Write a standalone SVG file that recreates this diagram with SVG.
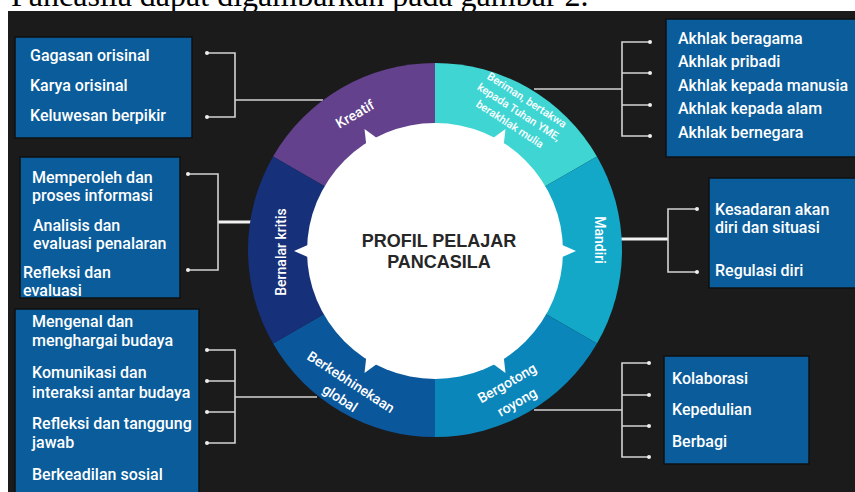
<svg xmlns="http://www.w3.org/2000/svg" width="855" height="492" viewBox="0 0 855 492">
<defs>
<style>
.page{font-family:"Liberation Serif","Times New Roman",serif;font-size:32px;fill:#000}
.box{fill:#0a5c9a;stroke:#111;stroke-width:1.5}
.bt{font-family:Roboto,"Liberation Sans",Arial,sans-serif;font-weight:500;font-size:16px;fill:#fff}
.seg{stroke:none}
.lab{font-family:Roboto,"Liberation Sans",Arial,sans-serif;font-weight:500;font-size:14px;fill:#fff;text-anchor:middle}
.small{font-size:11px}
.ctr{font-family:"Liberation Sans",Arial,sans-serif;font-weight:700;font-size:18px;fill:#262626;text-anchor:middle}
.ln{fill:none;stroke:#d4d4d4;stroke-width:1.6}
.thick{fill:none;stroke:#f2f2f2;stroke-width:3}
.dot{fill:#eee}
</style>
<polygon id="tip" points="560,244 576,251 560,258" fill="#fff"/>
</defs>
<rect x="0" y="0" width="855" height="492" fill="#fff"/>
<text class="page" x="11" y="6">Pancasila dapat digambarkan pada gambar 2.</text>
<rect x="8" y="11" width="847" height="481" fill="#1b1b1b"/>

<g id="connectors">
<path class="ln" d="M323,100H235M207,53H235V117H207"/>
<path class="ln" d="M534,89H622M650,42H622V136H650M622,73H650M622,105H650"/>
<path class="thick" d="M252,222H218"/>
<path class="ln" d="M188,174H218V270H188"/>
<path class="thick" d="M620,239H668"/>
<path class="ln" d="M697,209H668V272H697"/>
<path class="ln" d="M317,397H235M207,350H235V443H207M207,381H235M207,412H235"/>
<path class="ln" d="M534,410H622M649,363H622V457H649M622,395H649M622,426H649"/>
<g class="dot">
<circle cx="207" cy="53" r="2"/><circle cx="207" cy="117" r="2"/>
<circle cx="650" cy="42" r="2"/><circle cx="650" cy="73" r="2"/><circle cx="650" cy="105" r="2"/><circle cx="650" cy="136" r="2"/>
<circle cx="188" cy="174" r="2"/><circle cx="188" cy="270" r="2"/>
<circle cx="697" cy="209" r="2"/><circle cx="697" cy="272" r="2"/>
<circle cx="207" cy="350" r="2"/><circle cx="207" cy="381" r="2"/><circle cx="207" cy="412" r="2"/><circle cx="207" cy="443" r="2"/>
<circle cx="649" cy="363" r="2"/><circle cx="649" cy="395" r="2"/><circle cx="649" cy="426" r="2"/><circle cx="649" cy="457" r="2"/>
</g>
</g>

<g id="seg-kreatif">
<path class="seg" fill="#63418c" d="M435,250L273.05,156.5A187,187 0 0 1 435,63Z"/>
<text class="lab" transform="translate(355,114) rotate(-30)" dy=".35em">Kreatif</text>
</g>
<g id="seg-beriman">
<path class="seg" fill="#3ed5d3" d="M435,250L435,63A187,187 0 0 1 596.95,156.5Z"/>
<text class="lab small" transform="translate(527,100) rotate(33)" dy=".35em">Beriman, bertakwa</text>
<text class="lab small" transform="translate(519,112) rotate(33)" dy=".35em">kepada Tuhan YME,</text>
<text class="lab small" transform="translate(510,124) rotate(33)" dy=".35em">berakhlak mulia</text>
</g>
<g id="seg-mandiri">
<path class="seg" fill="#13a8c8" d="M435,250L596.95,156.5A187,187 0 0 1 596.95,343.5Z"/>
<text class="lab" transform="translate(600,240) rotate(90)" dy=".35em">Mandiri</text>
</g>
<g id="seg-bergotong">
<path class="seg" fill="#0b86ba" d="M435,250L596.95,343.5A187,187 0 0 1 435,437Z"/>
<text class="lab" transform="translate(507,383) rotate(-30)" dy=".35em">Bergotong</text>
<text class="lab" transform="translate(517,402) rotate(-30)" dy=".35em">royong</text>
</g>
<g id="seg-berkebhinekaan">
<path class="seg" fill="#0b579c" d="M435,250L435,437A187,187 0 0 1 273.05,343.5Z"/>
<text class="lab" transform="translate(351,382) rotate(33)" dy=".35em">Berkebhinekaan</text>
<text class="lab" transform="translate(340,398) rotate(33)" dy=".35em">global</text>
</g>
<g id="seg-bernalar">
<path class="seg" fill="#17307a" d="M435,250L273.05,343.5A187,187 0 0 1 273.05,156.5Z"/>
<text class="lab" transform="translate(281,252) rotate(-90)" dy=".35em">Bernalar kritis</text>
</g>

<g id="center">
<circle cx="435" cy="251" r="128" fill="#fff"/>
<use href="#tip" transform="rotate(0 435 251)"/>
<use href="#tip" transform="rotate(60 435 251)"/>
<use href="#tip" transform="rotate(120 435 251)"/>
<use href="#tip" transform="rotate(180 435 251)"/>
<use href="#tip" transform="rotate(240 435 251)"/>
<use href="#tip" transform="rotate(300 435 251)"/>
<text class="ctr" x="439" y="247">PROFIL PELAJAR</text>
<text class="ctr" x="439" y="268">PANCASILA</text>
</g>

<g id="box-kreatif">
<rect class="box" x="15" y="37" width="177" height="101"/>
<text class="bt" x="30" y="61">Gagasan orisinal</text>
<text class="bt" x="30" y="91">Karya orisinal</text>
<text class="bt" x="30" y="121">Keluwesan berpikir</text>
</g>
<g id="box-beriman">
<rect class="box" x="666" y="19" width="195" height="138"/>
<text class="bt" x="678" y="44">Akhlak beragama</text>
<text class="bt" x="678" y="67">Akhlak pribadi</text>
<text class="bt" x="678" y="91">Akhlak kepada manusia</text>
<text class="bt" x="678" y="114">Akhlak kepada alam</text>
<text class="bt" x="678" y="138">Akhlak bernegara</text>
</g>
<g id="box-bernalar">
<rect class="box" x="20" y="157" width="160" height="141"/>
<text class="bt" x="32" y="183">Memperoleh dan</text>
<text class="bt" x="32" y="201">proses informasi</text>
<text class="bt" x="33" y="231">Analisis dan</text>
<text class="bt" x="33" y="249">evaluasi penalaran</text>
<text class="bt" x="23" y="278">Refleksi dan</text>
<text class="bt" x="23" y="296">evaluasi</text>
</g>
<g id="box-mandiri">
<rect class="box" x="709" y="178" width="152" height="110"/>
<text class="bt" x="715" y="215">Kesadaran akan</text>
<text class="bt" x="715" y="233">diri dan situasi</text>
<text class="bt" x="715" y="276">Regulasi diri</text>
</g>
<g id="box-berkebhinekaan">
<rect class="box" x="15" y="309" width="184" height="190"/>
<text class="bt" x="32" y="327">Mengenal dan</text>
<text class="bt" x="32" y="346">menghargai budaya</text>
<text class="bt" x="32" y="378">Komunikasi dan</text>
<text class="bt" x="32" y="398">interaksi antar budaya</text>
<text class="bt" x="32" y="429">Refleksi dan tanggung</text>
<text class="bt" x="32" y="448">jawab</text>
<text class="bt" x="32" y="480">Berkeadilan sosial</text>
</g>
<g id="box-bergotong">
<rect class="box" x="664" y="356" width="145" height="108"/>
<text class="bt" x="672" y="384">Kolaborasi</text>
<text class="bt" x="672" y="415">Kepedulian</text>
<text class="bt" x="672" y="447">Berbagi</text>
</g>
</svg>
